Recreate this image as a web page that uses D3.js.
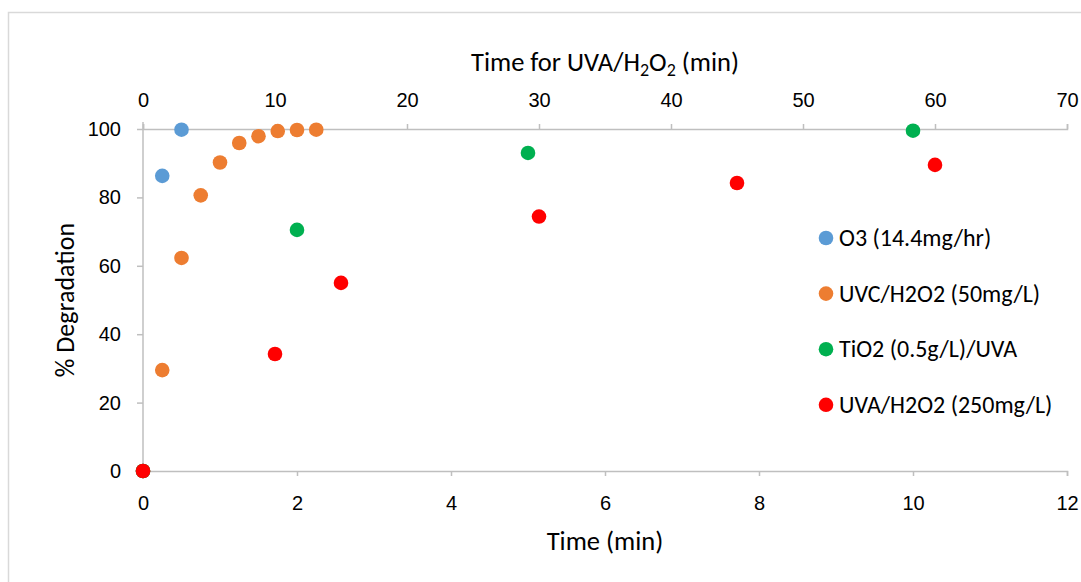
<!DOCTYPE html>
<html>
<head>
<meta charset="utf-8">
<script src="https://cdn.jsdelivr.net/npm/d3@7"></script>
<style>
  html, body { margin: 0; padding: 0; background: #fff; }
  svg { display: block; font-family: Carlito, Calibri, Lato, "Open Sans", sans-serif; }
</style>
</head>
<body>
<svg id="chart" width="1081" height="582"></svg>
<script>
// ---- data ----
const seriesNames = ["O3 (14.4mg/hr)", "UVC/H2O2 (50mg/L)", "TiO2 (0.5g/L)/UVA", "UVA/H2O2 (250mg/L)"];
const seriesColors = ["#5B9BD5", "#ED7D31", "#00B050", "#FF0000"];
const o3Time = [0, 0.25, 0.5];
const o3Deg = [0, 86.3, 99.8];
const uvcTime = [0, 0.25, 0.5, 0.75, 1.0, 1.25, 1.5, 1.75, 2.0, 2.25];
const uvcDeg = [0, 29.5, 62.3, 80.6, 90.2, 95.9, 97.9, 99.4, 99.7, 99.8];
const tioTime = [0, 2, 5, 10];
const tioDeg = [0, 70.5, 93.0, 99.5];
const uvaTime = [0, 10, 15, 30, 45, 60];   // plotted on the top (secondary) axis, minutes
const uvaDeg = [0, 34.2, 55.0, 74.4, 84.2, 89.5];
const bottomTicks = [0, 2, 4, 6, 8, 10, 12];
const topTicks = [0, 10, 20, 30, 40, 50, 60, 70];
const yTicks = [0, 20, 40, 60, 80, 100];

(function () {
const svg = d3.select("#chart");
const W = 1081, H = 582;
const pLeft = 143, pRight = 1067, pTop = 129, pBottom = 471;

// chart border
svg.append("rect").attr("x", 8.5).attr("y", 12.5).attr("width", W + 10).attr("height", H + 10)
  .attr("fill", "#fff").attr("stroke", "#d9d9d9").attr("stroke-width", 1.5);

const x = d3.scaleLinear().domain([0, 12]).range([pLeft, pRight]);
const x2 = d3.scaleLinear().domain([0, 70]).range([pLeft, pRight]);
const y = d3.scaleLinear().domain([0, 100]).range([pBottom, pTop]);

const axisColor = "#bfbfbf";
function styleAxis(g) {
  g.selectAll(".domain").attr("stroke", axisColor).attr("stroke-width", 1.5);
  g.selectAll(".tick line").attr("stroke", axisColor).attr("stroke-width", 1.5);
  g.selectAll(".tick text").attr("fill", "#000").style("font-size", "20px");
}

// bottom axis at y=0
const gx = svg.append("g").attr("transform", `translate(0,${y(0)})`)
  .call(d3.axisBottom(x).tickValues(bottomTicks).tickSize(5).tickSizeOuter(5).tickPadding(20).tickFormat(d3.format("d")));
styleAxis(gx);

// top axis at y=100
const gt = svg.append("g").attr("transform", `translate(0,${y(100)})`)
  .call(d3.axisTop(x2).tickValues(topTicks).tickSize(5).tickSizeOuter(5).tickPadding(17).tickFormat(d3.format("d")));
styleAxis(gt);

// left axis at x=0
const gy = svg.append("g").attr("transform", `translate(${x(0)},0)`)
  .call(d3.axisLeft(y).tickValues(yTicks).tickSize(6).tickSizeOuter(0).tickPadding(16).tickFormat(d3.format("d")));
styleAxis(gy);
gy.select(".domain").remove();
gy.append("line").attr("x1", 0).attr("x2", 0).attr("y1", y(0)).attr("y2", y(100) - 7)
  .attr("stroke", axisColor).attr("stroke-width", 1.5);

// axis titles
svg.append("text").attr("x", 605).attr("y", 550).attr("text-anchor", "middle")
  .style("font-size", "26.5px").attr("fill", "#000").text("Time (min)");
svg.append("text").attr("transform", "translate(74,300) rotate(-90)").attr("text-anchor", "middle")
  .style("font-size", "26px").attr("fill", "#000").text("% Degradation");
const tt = svg.append("text").attr("x", 605).attr("y", 71).attr("text-anchor", "middle")
  .style("font-size", "26.5px").attr("fill", "#000");
tt.append("tspan").text("Time for UVA/H");
tt.append("tspan").attr("dy", 5).style("font-size", "18px").text("2");
tt.append("tspan").attr("dy", -5).text("O");
tt.append("tspan").attr("dy", 5).style("font-size", "18px").text("2");
tt.append("tspan").attr("dy", -5).text(" (min)");

// points
const series = [
  { t: o3Time, d: o3Deg, sx: x },
  { t: uvcTime, d: uvcDeg, sx: x },
  { t: tioTime, d: tioDeg, sx: x },
  { t: uvaTime, d: uvaDeg, sx: x2 }
];
const r = 7.3;
series.forEach((s, i) => {
  svg.append("g").selectAll("circle")
    .data(s.t.map((tv, k) => [tv, s.d[k]]))
    .join("circle")
    .attr("cx", d => s.sx(d[0]))
    .attr("cy", d => y(d[1]))
    .attr("r", r)
    .attr("fill", seriesColors[i]);
});

// legend
const lg = svg.append("g");
seriesNames.forEach((name, i) => {
  const cy = 238 + i * 55.6;
  lg.append("circle").attr("cx", 826).attr("cy", cy).attr("r", r).attr("fill", seriesColors[i]);
  lg.append("text").attr("x", 839).attr("y", cy + 8).style("font-size", "24px").attr("fill", "#000").text(name);
});
})();
</script>
</body>
</html>
